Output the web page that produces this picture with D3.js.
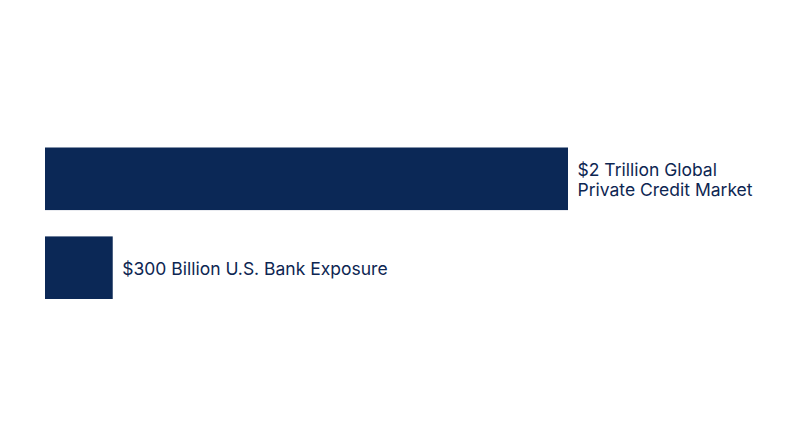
<!DOCTYPE html>
<html>
<head>
<meta charset="utf-8">
<script src="https://cdn.jsdelivr.net/npm/d3@7"></script>
<style>
  body { margin: 0; background: #fff; }
  text { font-family: Inter, "Noto Sans", sans-serif; fill: #0d2652; }
</style>
</head>
<body>
<div id="chart"></div>
<script>
var categories = ['global', 'bank'];
var values = [2000, 259];
var labels = [
	['$2 Trillion Global', 'Private Credit Market'],
	['$300 Billion U.S. Bank Exposure']
];

var width = 800, height = 447;
var svg = d3.select('#chart').append('svg').attr('width', width).attr('height', height);

var x = d3.scaleLinear().domain([0, 2000]).range([45, 568]);
var y = d3.scaleBand().domain(categories).range([147.5, 299]).paddingInner(0.296).paddingOuter(0);

svg.selectAll('rect.bar')
	.data(values)
	.enter().append('rect')
	.attr('class', 'bar')
	.attr('x', x(0))
	.attr('y', function(d, i) { return y(categories[i]); })
	.attr('width', function(d) { return x(d) - x(0); })
	.attr('height', y.bandwidth())
	.style('fill', '#0b2856');

// labels to the right of each bar
var lh = 20;
svg.selectAll('text.lbl')
	.data(values)
	.enter().append('text')
	.attr('class', 'lbl')
	.attr('x', function(d) { return x(d) + 9.5; })
	.attr('y', function(d, i) {
		var n = labels[i].length;
		return y(categories[i]) + y.bandwidth() / 2 - (n - 1) * lh / 2 + 7.5;
	})
	.style('font-size', '17.5px')
	.each(function(d, i) {
		var t = d3.select(this);
		labels[i].forEach(function(s, k) {
			t.append('tspan').attr('x', x(d) + 9.5).attr('dy', k ? lh : 0).text(s);
		});
	});
</script>
</body>
</html>
